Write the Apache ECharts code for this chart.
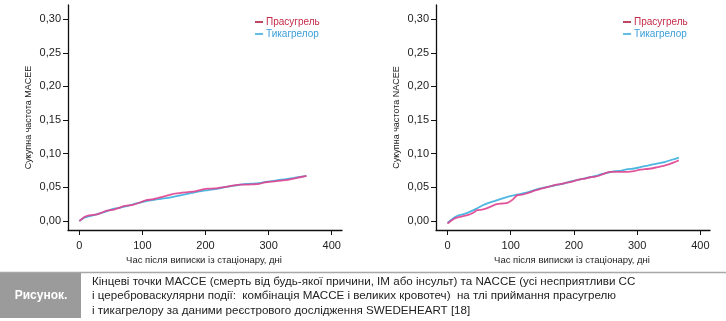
<!DOCTYPE html>
<html>
<head>
<meta charset="utf-8">
<script src="https://cdn.jsdelivr.net/npm/echarts@6/dist/echarts.min.js"></script>
<style>
  html, body { margin: 0; padding: 0; background: #fff; }
  #chart { width: 726px; height: 321px; }
</style>
</head>
<body>
<div id="chart"></div>
<script>
// Cumulative incidence, days after discharge (SWEDEHEART registry)
const seriesNames = ['Прасугрель', 'Тикагрелор'];
const xTicks = [0, 100, 200, 300, 400];
const yTicks = [0, 0.05, 0.10, 0.15, 0.20, 0.25, 0.30];

// MACCE panel
const maccePrasDays = [0, 3, 8, 14, 21, 28, 35, 42, 48, 55, 62, 70, 77, 85, 92, 100, 106, 115, 124, 132, 140, 148, 155, 163, 172, 180, 188, 196, 205, 215, 225, 235, 245, 255, 265, 275, 285, 292, 300, 310, 320, 330, 340, 350, 360];
const maccePrasVals = [0.000, 0.002, 0.006, 0.008, 0.009, 0.010, 0.012, 0.015, 0.016, 0.017, 0.019, 0.022, 0.023, 0.024, 0.026, 0.029, 0.031, 0.032, 0.034, 0.036, 0.038, 0.040, 0.041, 0.042, 0.043, 0.0435, 0.045, 0.047, 0.048, 0.0485, 0.050, 0.051, 0.053, 0.054, 0.054, 0.0545, 0.055, 0.057, 0.058, 0.059, 0.060, 0.061, 0.063, 0.065, 0.067];
const macceTicaDays = [0, 8, 20, 35, 45, 53, 65, 78, 90, 101, 115, 130, 145, 160, 175, 190, 205, 220, 235, 250, 265, 280, 295, 310, 325, 340, 352, 360];
const macceTicaVals = [0.000, 0.005, 0.008, 0.012, 0.015, 0.018, 0.020, 0.023, 0.026, 0.0285, 0.031, 0.033, 0.035, 0.038, 0.041, 0.044, 0.046, 0.048, 0.051, 0.053, 0.055, 0.056, 0.058, 0.060, 0.062, 0.064, 0.066, 0.067];

// NACCE panel
const naccePrasDays = [0, 5, 10, 15, 20, 28, 36, 42, 47, 55, 63, 70, 78, 87, 95, 102, 110, 118, 125, 132, 140, 148, 156, 165, 172, 180, 188, 196, 202, 210, 218, 226, 234, 242, 250, 256, 265, 275, 285, 295, 303, 312, 322, 332, 342, 350, 358, 366];
const naccePrasVals = [-0.004, 0.000, 0.003, 0.005, 0.006, 0.008, 0.010, 0.013, 0.016, 0.017, 0.019, 0.022, 0.025, 0.026, 0.027, 0.031, 0.038, 0.039, 0.041, 0.043, 0.046, 0.048, 0.050, 0.052, 0.054, 0.055, 0.057, 0.058, 0.060, 0.062, 0.063, 0.065, 0.066, 0.068, 0.071, 0.073, 0.073, 0.073, 0.073, 0.074, 0.076, 0.077, 0.078, 0.080, 0.082, 0.084, 0.087, 0.090];
const nacceTicaDays = [0, 5, 12, 20, 28, 36, 45, 55, 65, 75, 85, 95, 105, 115, 125, 135, 145, 155, 165, 175, 185, 195, 205, 215, 225, 235, 245, 255, 265, 275, 285, 295, 305, 315, 325, 335, 345, 355, 366];
const nacceTicaVals = [-0.003, 0.001, 0.006, 0.009, 0.011, 0.014, 0.018, 0.023, 0.027, 0.030, 0.033, 0.036, 0.038, 0.040, 0.042, 0.045, 0.048, 0.050, 0.052, 0.054, 0.056, 0.059, 0.061, 0.063, 0.065, 0.067, 0.070, 0.072, 0.074, 0.075, 0.077, 0.078, 0.080, 0.082, 0.084, 0.086, 0.088, 0.091, 0.094];

const yNames = ['Сукупна частота MACEE', 'Сукупна частота NACEE'];
const xName = 'Час після виписки із стаціонару, дні';
const captionLabel = 'Рисунок.';
const captionLines = [
  'Кінцеві точки МАССЕ (смерть від будь-якої причини, ІМ або інсульт) та NACCE (усі несприятливи СС',
  'і цереброваскулярни події:  комбінація МАССЕ і великих кровотеч)  на тлі приймання прасугрелю',
  'і тикагрелору за даними реєстрового дослідження SWEDEHEART [18]'
];

const FONT = '"Liberation Sans", Arial, sans-serif';
const PRAS_LINE = '#e0438f';
const TICA_LINE = '#3aaede';
const PRAS_TEXT = '#c42a48';
const TICA_TEXT = '#3a9ed8';

const pairs = (xs, ys) => xs.map((d, i) => [d, ys[i]]);

const grids = [
  { left: 68, top: 5, width: 274, height: 225 },
  { left: 436, top: 5, width: 274, height: 225 }
];
const xRanges = [[-17.9, 416.3], [-18.2, 415.3]];

function xAxis(i) {
  return {
    type: 'value', gridIndex: i, min: xRanges[i][0], max: xRanges[i][1],
    splitLine: { show: false },
    axisLine: { show: true, onZero: false, lineStyle: { color: '#111', width: 1.3 } },
    axisTick: { show: true, length: 5, customValues: xTicks, lineStyle: { color: '#111', width: 1 } },
    axisLabel: { customValues: xTicks, margin: 10, fontSize: 11, color: '#222', fontFamily: FONT }
  };
}
function yAxis(i) {
  return {
    type: 'value', gridIndex: i, min: -0.0134, max: 0.321,
    name: yNames[i], nameLocation: 'middle', nameGap: 35,
    nameTextStyle: { fontSize: 9, color: '#222', fontFamily: FONT },
    splitLine: { show: false },
    axisLine: { show: true, onZero: false, lineStyle: { color: '#111', width: 1.3 } },
    axisTick: { show: true, length: 5, customValues: yTicks, lineStyle: { color: '#111', width: 1 } },
    axisLabel: {
      customValues: yTicks, margin: 7, fontSize: 11, color: '#222', fontFamily: FONT,
      formatter: v => v.toFixed(2).replace('.', ',')
    }
  };
}
function line(name, i, data, color) {
  return {
    name, type: 'line', xAxisIndex: i, yAxisIndex: i, data,
    showSymbol: false, symbol: 'none', smooth: 0.2,
    lineStyle: { color, width: 1.8, opacity: 0.9 }, itemStyle: { color },
    emphasis: { disabled: true }, animation: false
  };
}
function legend(left) {
  return {
    orient: 'vertical', left, top: 11, itemGap: 0,
    icon: 'rect', itemWidth: 8, itemHeight: 1.6,
    textStyle: { fontSize: 10, fontFamily: FONT, lineHeight: 12, padding: [0, 0, 0, -2] },
    data: [
      { name: seriesNames[0], itemStyle: { color: '#b0183a' }, textStyle: { color: PRAS_TEXT } },
      { name: seriesNames[1], itemStyle: { color: TICA_LINE }, textStyle: { color: TICA_TEXT } }
    ],
    selectedMode: false
  };
}
function label(text, x, y, extra) {
  return {
    type: 'text', x, y, z: 10,
    style: Object.assign({ text, fill: '#222', font: '9.5px ' + FONT, textAlign: 'center', textVerticalAlign: 'middle' }, extra || {})
  };
}

const chart = echarts.init(document.getElementById('chart'), null, { renderer: 'canvas' });
chart.setOption({
  animation: false,
  backgroundColor: '#fff',
  grid: grids,
  xAxis: [xAxis(0), xAxis(1)],
  yAxis: [yAxis(0), yAxis(1)],
  legend: [legend(250), legend(618)],
  graphic: [
    { type: 'line', shape: { x1: 0, y1: 272.5, x2: 726, y2: 272.5 }, style: { stroke: '#a8a8a8', lineWidth: 1.5 }, z: 0 },
    { type: 'rect', shape: { x: 0, y: 273, width: 81, height: 45 }, style: { fill: '#9b9b9b' }, z: 0 },
    label(xName, 204, 260),
    label(xName, 572, 260),
    label(captionLabel, 41, 296, { fill: '#fff', font: 'bold 12px ' + FONT }),
    label(captionLines[0], 92, 282, { font: '11.6px ' + FONT, textAlign: 'left' }),
    label(captionLines[1], 92, 296, { font: '11.6px ' + FONT, textAlign: 'left' }),
    label(captionLines[2], 92, 310.5, { font: '11.6px ' + FONT, textAlign: 'left' })
  ],
  series: [
    line(seriesNames[1], 0, pairs(macceTicaDays, macceTicaVals), TICA_LINE),
    line(seriesNames[0], 0, pairs(maccePrasDays, maccePrasVals), PRAS_LINE),
    line(seriesNames[1], 1, pairs(nacceTicaDays, nacceTicaVals), TICA_LINE),
    line(seriesNames[0], 1, pairs(naccePrasDays, naccePrasVals), PRAS_LINE)
  ]
});
</script>
</body>
</html>
